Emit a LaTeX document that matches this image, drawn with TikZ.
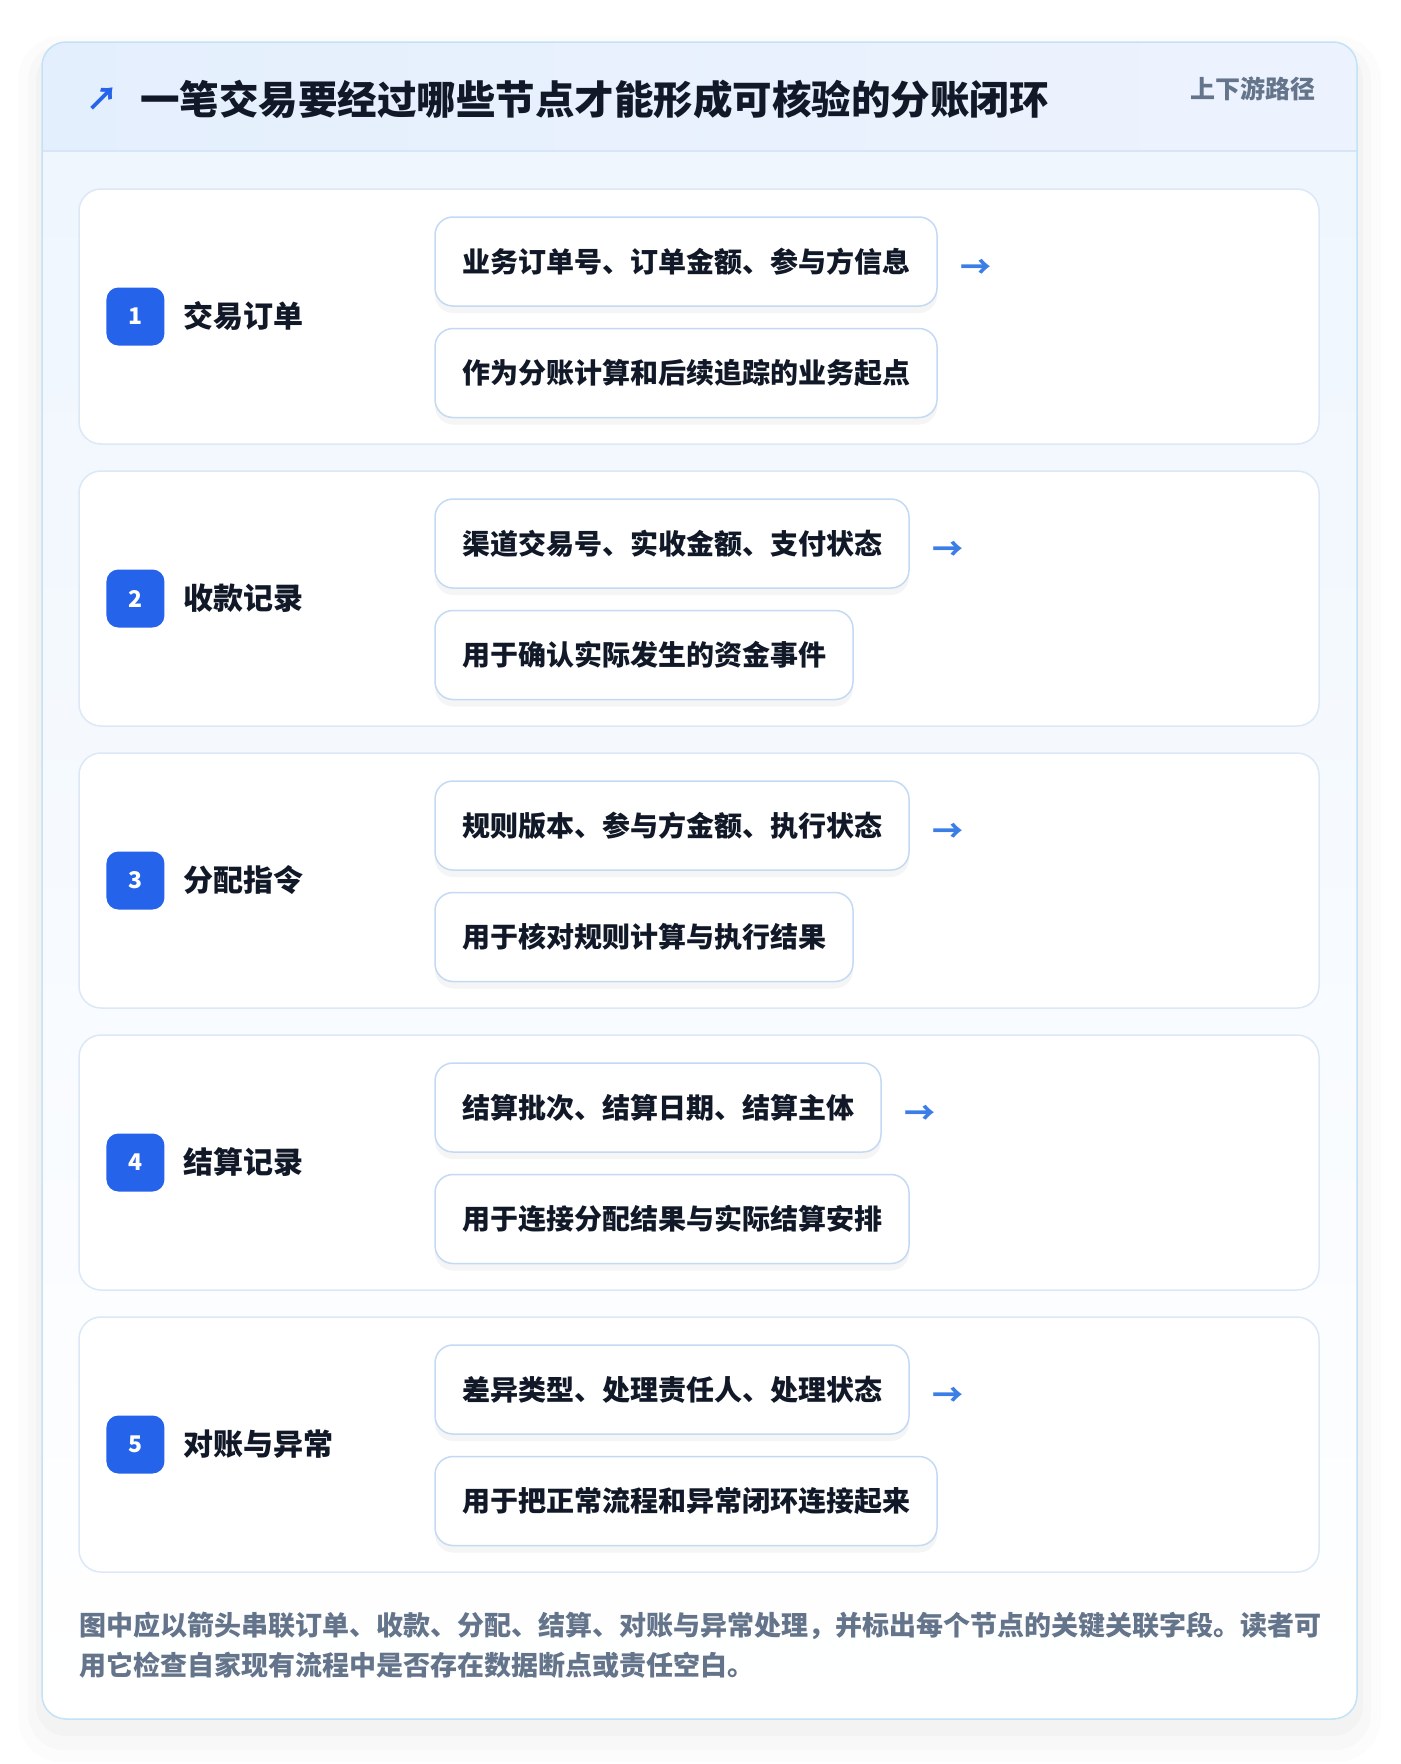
\documentclass[tikz,border=0pt]{standalone}
\usepackage{fontspec}
\setmainfont{Noto Sans CJK SC}
\usepackage{xcolor}
\usetikzlibrary{positioning,shadows}

\definecolor{ink}{HTML}{111827}
\definecolor{muted}{HTML}{64748B}
\definecolor{badgeblue}{HTML}{2563EB}
\definecolor{arrowblue}{HTML}{3B7FE6}
\definecolor{cardline}{HTML}{DCE8F6}
\definecolor{pillline}{HTML}{C4DAF4}
\definecolor{outerline}{HTML}{C3E2F6}
\definecolor{headleft}{HTML}{E4EFFD}
\definecolor{headright}{HTML}{EDF3FE}
\definecolor{headline}{HTML}{D6E6F8}
\definecolor{bodytop}{HTML}{EFF6FE}

\begin{document}
\begin{tikzpicture}[x=1pt, y=-1pt,
    card/.style={draw=cardline, line width=1.5pt, fill=white, rounded corners=22pt,
      minimum width=1240pt, minimum height=255pt},
    badge/.style={fill=badgeblue, text=white, rounded corners=12pt, minimum size=58pt,
      inner sep=0pt, font=\fontsize{23}{23}\selectfont\bfseries},
    stage/.style={text=ink, inner sep=0pt, font=\fontsize{30}{30}\selectfont\bfseries},
    pill/.style={draw=pillline, line width=1.5pt, fill=white, rounded corners=18pt,
      minimum height=89pt, inner xsep=27pt, inner ysep=0pt, text=ink,
      font=\fontsize{28}{28}\selectfont\bfseries,
      drop shadow={shadow xshift=0pt, shadow yshift=-7pt, opacity=0.04, fill=black}},
    flow/.style={text=arrowblue, inner sep=0pt, yshift=-7pt, font=\fontsize{31}{31}\selectfont\bfseries}
  ]
  \useasboundingbox[fill=white] (0,0) rectangle (1400,1764);

  % soft shadow round the panel
  \fill[black, opacity=0.010, rounded corners=44pt] (18,36) rectangle (1381,1762);
  \fill[black, opacity=0.014, rounded corners=36pt] (28,44) rectangle (1371,1750);
  \fill[black, opacity=0.020, rounded corners=30pt] (36,50) rectangle (1363,1736);

  % panel, header band and body
  \begin{scope}
    \clip[rounded corners=24pt] (42,42) rectangle (1357,1719);
    \shade[top color=bodytop, bottom color=white] (42,151) rectangle (1357,1719);
    \shade[left color=headleft, right color=headright] (42,42) rectangle (1357,151);
    \draw[headline, line width=1.5pt] (42,151) -- (1357,151);
  \end{scope}
  \draw[outerline, line width=1.5pt, rounded corners=24pt] (42,42) rectangle (1357,1719);

  \node[text=badgeblue, inner sep=0pt, font=\fontsize{32}{32}\selectfont\bfseries] (icon) at (102,99) {↗};
  \node[anchor=west, text=ink, inner sep=0pt, font=\fontsize{39.5}{40}\selectfont\bfseries]
    (title) at (140,99) {一笔交易要经过哪些节点才能形成可核验的分账闭环};
  \node[anchor=east, text=muted, inner sep=0pt, font=\fontsize{25}{25}\selectfont\bfseries]
    (tag) at (1316,89) {上下游路径};

  % stage 1
  \node[card] (card1) at (699,316.5) {};
  \node[badge, right=28pt of card1.west] (badge1) {1};
  \node[stage, right=19pt of badge1] (lab1) {交易订单};
  \node[pill, anchor=north west] (keyA1) at ([xshift=356pt, yshift=-28pt]card1.north west) {业务订单号、订单金额、参与方信息};
  \node[pill, below=21pt of keyA1.south west, anchor=north west] (keyB1) {作为分账计算和后续追踪的业务起点};
  \node[flow, right=23pt of keyA1] (arr1) {→};

  % stage 2
  \node[card] (card2) at (699,598.5) {};
  \node[badge, right=28pt of card2.west] (badge2) {2};
  \node[stage, right=19pt of badge2] (lab2) {收款记录};
  \node[pill, anchor=north west] (keyA2) at ([xshift=356pt, yshift=-28pt]card2.north west) {渠道交易号、实收金额、支付状态};
  \node[pill, below=21pt of keyA2.south west, anchor=north west] (keyB2) {用于确认实际发生的资金事件};
  \node[flow, right=23pt of keyA2] (arr2) {→};

  % stage 3
  \node[card] (card3) at (699,880.5) {};
  \node[badge, right=28pt of card3.west] (badge3) {3};
  \node[stage, right=19pt of badge3] (lab3) {分配指令};
  \node[pill, anchor=north west] (keyA3) at ([xshift=356pt, yshift=-28pt]card3.north west) {规则版本、参与方金额、执行状态};
  \node[pill, below=21pt of keyA3.south west, anchor=north west] (keyB3) {用于核对规则计算与执行结果};
  \node[flow, right=23pt of keyA3] (arr3) {→};

  % stage 4
  \node[card] (card4) at (699,1162.5) {};
  \node[badge, right=28pt of card4.west] (badge4) {4};
  \node[stage, right=19pt of badge4] (lab4) {结算记录};
  \node[pill, anchor=north west] (keyA4) at ([xshift=356pt, yshift=-28pt]card4.north west) {结算批次、结算日期、结算主体};
  \node[pill, below=21pt of keyA4.south west, anchor=north west] (keyB4) {用于连接分配结果与实际结算安排};
  \node[flow, right=23pt of keyA4] (arr4) {→};

  % stage 5
  \node[card] (card5) at (699,1444.5) {};
  \node[badge, right=28pt of card5.west] (badge5) {5};
  \node[stage, right=19pt of badge5] (lab5) {对账与异常};
  \node[pill, anchor=north west] (keyA5) at ([xshift=356pt, yshift=-28pt]card5.north west) {差异类型、处理责任人、处理状态};
  \node[pill, below=21pt of keyA5.south west, anchor=north west] (keyB5) {用于把正常流程和异常闭环连接起来};
  \node[flow, right=23pt of keyA5] (arr5) {→};

  \node[anchor=west, align=left, text=muted, inner sep=0pt, font=\fontsize{27}{40}\selectfont\bfseries]
    (note) at (79,1645) {图中应以箭头串联订单、收款、分配、结算、对账与异常处理，并标出每个节点的关键关联字段。读者可\\用它检查自家现有流程中是否存在数据断点或责任空白。};
\end{tikzpicture}
\end{document}
